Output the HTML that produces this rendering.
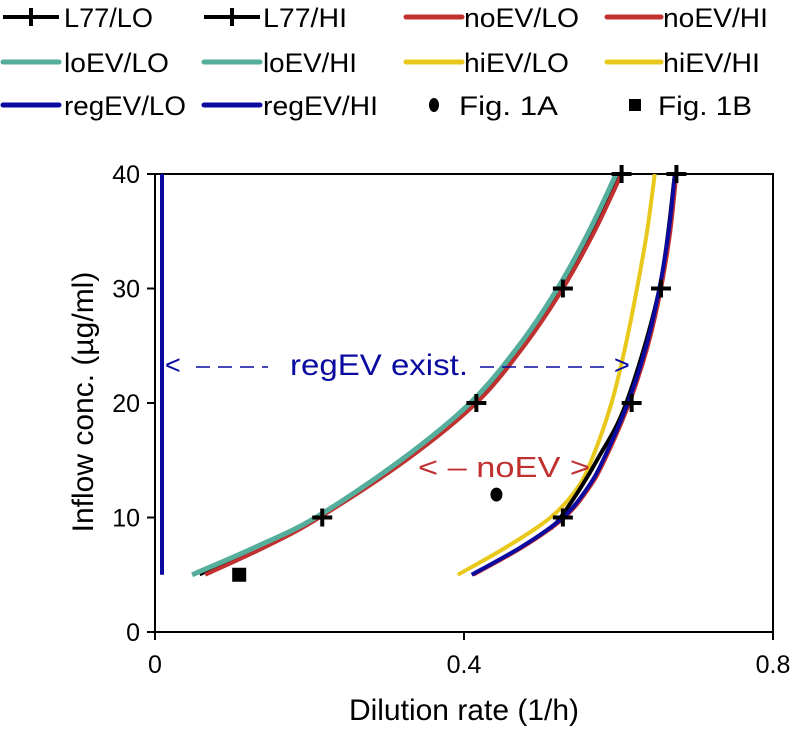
<!DOCTYPE html>
<html><head><meta charset="utf-8"><style>
html,body{margin:0;padding:0;background:#fff;}
svg{display:block;font-family:"Liberation Sans",Arial,sans-serif;}
</style></head><body>
<svg id="chart" width="796" height="729" viewBox="0 0 796 729">
<g id="legend"></g>
<g id="axes"></g>
<g id="series"></g>
</svg>
<script>
const leftY = [5, 7.5, 10, 15, 20, 25, 30, 35, 40];
const noEVLO = [0.065, 0.145, 0.213, 0.325, 0.416, 0.478, 0.528, 0.569, 0.604];
const loEV = [0.048, 0.133, 0.208, 0.318, 0.408, 0.471, 0.521, 0.562, 0.597];
const l77LOline = [0.058, 0.140, 0.211, 0.322, 0.413, 0.475, 0.525, 0.566, 0.602];
const rightY = [5, 7.5, 10, 12.5, 15, 20, 25, 30, 35, 40];
const hiEV = [0.392, 0.457, 0.512, 0.546, 0.565, 0.591, 0.609, 0.624, 0.637, 0.647];
const regEVHI = [0.410, 0.476, 0.528, 0.559, 0.580, 0.612, 0.636, 0.653, 0.665, 0.673];
const noEVHI = [0.412, 0.478, 0.530, 0.561, 0.582, 0.614, 0.638, 0.655, 0.667, 0.675];
const l77HIlineY = [9, 10, 12.5, 15, 20, 30, 40];
const l77HIline = [0.512, 0.525, 0.550, 0.572, 0.610, 0.653, 0.673];
const regEVLOx = [0.009, 0.009];
const regEVLOy = [5, 40];
const l77LOmarkX = [0.2165, 0.416, 0.528, 0.604];
const l77LOmarkY = [10, 20, 30, 40];
const l77HImarkX = [0.528, 0.617, 0.655, 0.675];
const l77HImarkY = [10, 20, 30, 40];
const fig1A = [0.442, 12];
const fig1B = [0.109, 5];
const xTicks = [0, 0.4, 0.8];
const xTickLabels = ["0", "0.4", "0.8"];
const yTicks = [0, 10, 20, 30, 40];
const yTickLabels = ["0", "10", "20", "30", "40"];

const NS = "http://www.w3.org/2000/svg";
const X0 = 155, X1 = 773, Y0 = 632, Y1 = 174;
const xs = v => X0 + v / 0.8 * (X1 - X0);
const ys = v => Y0 - v / 40 * (Y0 - Y1);
function mk(tag, attrs, parent) {
  const e = document.createElementNS(NS, tag);
  for (const k in attrs) e.setAttribute(k, attrs[k]);
  parent.appendChild(e);
  return e;
}
const axes = document.getElementById('axes');
const ser = document.getElementById('series');
const leg = document.getElementById('legend');

let fr = mk('rect', {x: X0, y: Y1, width: X1 - X0, height: Y0 - Y1, fill: 'none', stroke: '#000', 'stroke-width': 2}, axes);


xTicks.forEach((t, i) => {
  const l = mk('line', {x1: xs(t), x2: xs(t), y1: Y0, y2: Y0 + 8, stroke: '#000', 'stroke-width': 2}, axes);
  
  
  const tx = mk('text', {x: xs(t), y: 673, 'font-size': 25, 'text-anchor': 'middle'}, axes);
  tx.textContent = xTickLabels[i];
  
  
});
yTicks.forEach((t, i) => {
  const l = mk('line', {x1: X0 - 8, x2: X0, y1: ys(t), y2: ys(t), stroke: '#000', 'stroke-width': 2}, axes);
  
  
  const tx = mk('text', {x: X0 - 15, y: ys(t) + 9, 'font-size': 25, 'text-anchor': 'end'}, axes);
  tx.textContent = yTickLabels[i];
  
  
});
let xt = mk('text', {x: 464, y: 720, 'font-size': 30, 'text-anchor': 'middle'}, axes);
xt.textContent = 'Dilution rate (1/h)';


let yt = mk('text', {x: 0, y: 0, 'font-size': 30, 'text-anchor': 'middle', transform: 'translate(93,402) rotate(-90)'}, axes);
yt.textContent = 'Inflow conc. (\u00b5g/ml)';



function line(xv, yv, color, w, name) {
  const d = xv.map((v, i) => (i ? 'L' : 'M') + xs(v).toFixed(1) + ',' + ys(yv[i]).toFixed(1)).join(' ');
  const p = mk('path', {d: d, fill: 'none', stroke: color, 'stroke-width': w}, ser);
  
  
}
function smooth(xv, yv, color, w, name) {
  const P = xv.map((v, i) => [xs(v), ys(yv[i])]);
  let d = 'M' + P[0][0].toFixed(1) + ',' + P[0][1].toFixed(1);
  for (let i = 0; i < P.length - 1; i++) {
    const p0 = P[Math.max(i - 1, 0)], p1 = P[i], p2 = P[i + 1], p3 = P[Math.min(i + 2, P.length - 1)];
    const c1 = [p1[0] + (p2[0] - p0[0]) / 6, p1[1] + (p2[1] - p0[1]) / 6];
    const c2 = [p2[0] - (p3[0] - p1[0]) / 6, p2[1] - (p3[1] - p1[1]) / 6];
    d += ' C' + c1.map(n => n.toFixed(1)).join(',') + ' ' + c2.map(n => n.toFixed(1)).join(',') + ' ' + p2[0].toFixed(1) + ',' + p2[1].toFixed(1);
  }
  const p = mk('path', {d: d, fill: 'none', stroke: color, 'stroke-width': w, 'stroke-linejoin': 'round'}, ser);
  
  
}
const BLUE = '#0a0aa0', RED = '#c0302f', TEAL = '#55ad9c', YEL = '#e8c81a';
line(regEVLOx, regEVLOy, BLUE, 4, 'regev-lo-line');
smooth(l77LOline, leftY, '#000', 3, 'l77-lo-line');
smooth(noEVLO, leftY, RED, 4, 'noev-lo-line');
smooth(loEV, leftY, TEAL, 5, 'loev-line');
smooth(hiEV, rightY, YEL, 4, 'hiev-line');
smooth(l77HIline, l77HIlineY, '#000', 4, 'l77-hi-line');
smooth(noEVHI, rightY, RED, 4, 'noev-hi-line');
smooth(regEVHI, rightY, BLUE, 4, 'regev-hi-line');

function plus(x, y, name) {
  const g = mk('g', {}, ser);
  
  
  mk('line', {x1: x - 10, x2: x + 10, y1: y, y2: y, stroke: '#000', 'stroke-width': 4}, g);
  mk('line', {x1: x, x2: x, y1: y - 9, y2: y + 9, stroke: '#000', 'stroke-width': 4}, g);
}
l77LOmarkX.forEach((v, i) => plus(xs(v), ys(l77LOmarkY[i]), 'l77-lo-marker'));
l77HImarkX.forEach((v, i) => plus(xs(v), ys(l77HImarkY[i]), 'l77-hi-marker'));
let c = mk('ellipse', {cx: xs(fig1A[0]), cy: ys(fig1A[1]), rx: 6, ry: 7, fill: '#000'}, ser);


let sq = mk('rect', {x: xs(fig1B[0]) - 7, y: ys(fig1B[1]) - 7, width: 14, height: 14, fill: '#000'}, ser);



let a1 = mk('text', {x: 165, y: 374, 'font-size': 27, fill: BLUE}, ser);
a1.textContent = '<';


let dl1 = mk('line', {x1: 196, x2: 268, y1: 367, y2: 367, stroke: BLUE, 'stroke-width': 1.5, 'stroke-dasharray': '14 8'}, ser);


let a2 = mk('text', {x: 290, y: 375, 'font-size': 30, fill: BLUE, textLength: 178, lengthAdjust: 'spacingAndGlyphs'}, ser);
a2.textContent = 'regEV exist.';


let dl2 = mk('line', {x1: 480, x2: 610, y1: 367, y2: 367, stroke: BLUE, 'stroke-width': 1.5, 'stroke-dasharray': '14 8'}, ser);


let a3 = mk('text', {x: 614, y: 374, 'font-size': 27, fill: BLUE}, ser);
a3.textContent = '>';


let n1 = mk('text', {x: 418, y: 477, 'font-size': 29, fill: RED, textLength: 172, lengthAdjust: 'spacingAndGlyphs', 'xml:space': 'preserve'}, ser);
n1.textContent = '< \u2013 noEV  >';



const legNames = ['L77/LO','L77/HI','noEV/LO','noEV/HI','loEV/LO','loEV/HI','hiEV/LO','hiEV/HI','regEV/LO','regEV/HI','Fig. 1A','Fig. 1B'];
const legW = [89,84,115,105,105,94,105,97,122,115,99,94];
const colLine = [[3,59],[204,260],[406,462],[607,661]];
const colText = [64,263,464,663];
const rowY = [17,62,105];
const legKind = ['plus','plus',RED,RED,TEAL,TEAL,YEL,YEL,BLUE,BLUE,'dot','square'];
legNames.forEach((nm, i) => {
  const r = Math.floor(i / 4), cI = i % 4, y = rowY[r];
  const g = mk('g', {}, leg);
  
  
  const k = legKind[i];
  let tx = colText[cI];
  if (k === 'plus') {
    mk('line', {x1: colLine[cI][0], x2: colLine[cI][1], y1: y, y2: y, stroke: '#000', 'stroke-width': 4}, g);
    const mx = (colLine[cI][0] + colLine[cI][1]) / 2;
    mk('line', {x1: mx, x2: mx, y1: y - 9, y2: y + 9, stroke: '#000', 'stroke-width': 4}, g);
  } else if (k === 'dot') {
    mk('ellipse', {cx: 434, cy: y, rx: 5, ry: 7, fill: '#000'}, g);
    tx = 459;
  } else if (k === 'square') {
    mk('rect', {x: 629, y: y - 6, width: 12, height: 12, fill: '#000'}, g);
    tx = 658;
  } else {
    mk('line', {x1: colLine[cI][0], x2: colLine[cI][1], y1: y, y2: y, stroke: k, 'stroke-width': 5, 'stroke-linecap': 'round'}, g);
  }
  const t = mk('text', {x: tx, y: y + 10, 'font-size': 27, textLength: legW[i], lengthAdjust: 'spacingAndGlyphs'}, g);
  t.textContent = nm;
});
</script>
</body></html>
